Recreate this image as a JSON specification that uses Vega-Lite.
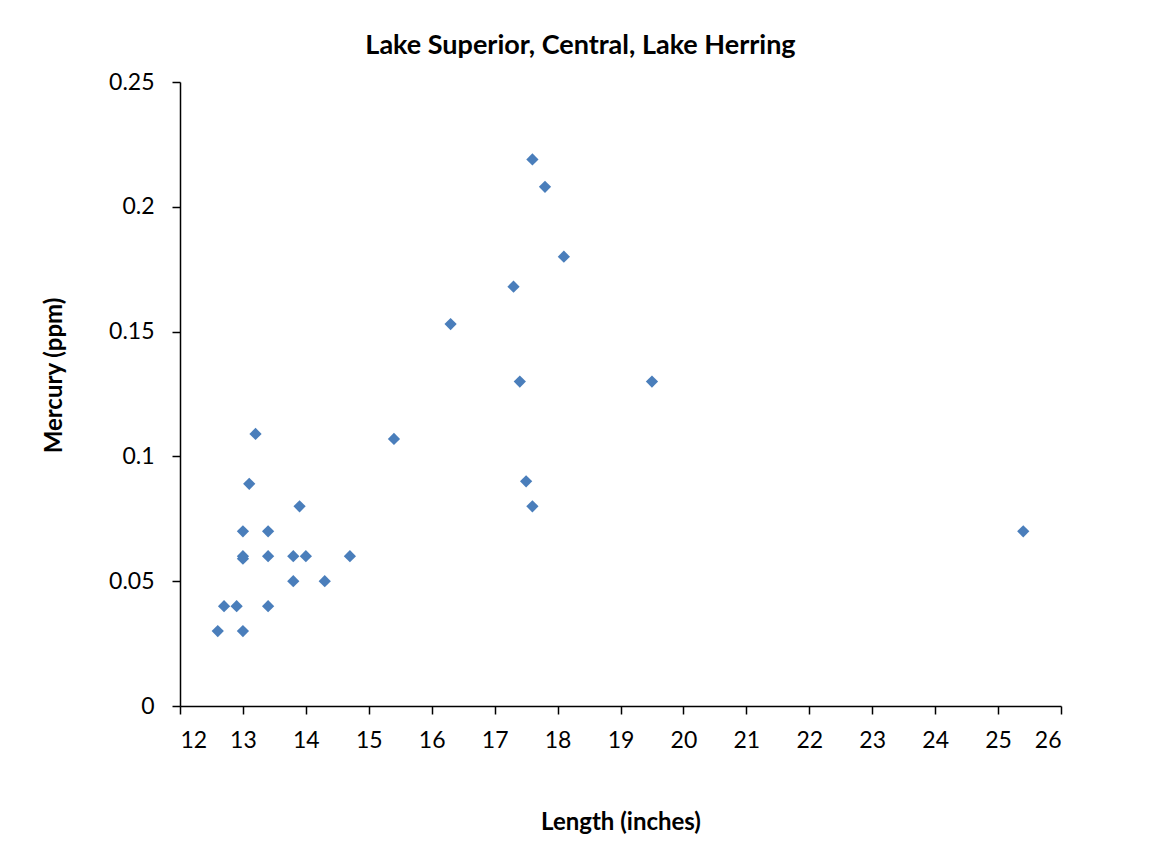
{
  "$schema": "https://vega.github.io/schema/vega-lite/v6.json",
  "width": 881,
  "height": 624,
  "autosize": {"type": "none"},
  "padding": {"left": 180, "top": 82, "right": 95, "bottom": 136},
  "background": "white",
  "title": {
    "text": "Lake Superior, Central, Lake Herring",
    "font": "Lato",
    "fontSize": 27,
    "fontWeight": "bold",
    "color": "black",
    "anchor": "middle",
    "dx": -40,
    "offset": 11
  },
  "config": {
    "view": {"stroke": null},
    "axis": {
      "labelFont": "Lato",
      "labelFontSize": 23,
      "labelColor": "black",
      "titleFont": "Lato",
      "titleFontSize": 24,
      "titleFontWeight": "bold",
      "titleColor": "black",
      "domainColor": "black",
      "domainWidth": 1.5,
      "tickColor": "black",
      "tickWidth": 1.5,
      "grid": false
    }
  },
  "data": {
    "values": [
      {"length": 13.2, "mercury": 0.109},
      {"length": 13.1, "mercury": 0.089},
      {"length": 13.9, "mercury": 0.08},
      {"length": 13.0, "mercury": 0.07},
      {"length": 13.4, "mercury": 0.07},
      {"length": 13.0, "mercury": 0.06},
      {"length": 13.0, "mercury": 0.059},
      {"length": 13.4, "mercury": 0.06},
      {"length": 13.8, "mercury": 0.06},
      {"length": 14.0, "mercury": 0.06},
      {"length": 14.7, "mercury": 0.06},
      {"length": 13.8, "mercury": 0.05},
      {"length": 14.3, "mercury": 0.05},
      {"length": 12.7, "mercury": 0.04},
      {"length": 12.9, "mercury": 0.04},
      {"length": 13.4, "mercury": 0.04},
      {"length": 12.6, "mercury": 0.03},
      {"length": 13.0, "mercury": 0.03},
      {"length": 15.4, "mercury": 0.107},
      {"length": 16.3, "mercury": 0.153},
      {"length": 17.3, "mercury": 0.168},
      {"length": 17.6, "mercury": 0.219},
      {"length": 17.8, "mercury": 0.208},
      {"length": 18.1, "mercury": 0.18},
      {"length": 17.4, "mercury": 0.13},
      {"length": 19.5, "mercury": 0.13},
      {"length": 17.5, "mercury": 0.09},
      {"length": 17.6, "mercury": 0.08},
      {"length": 25.4, "mercury": 0.07}
    ]
  },
  "mark": {"type": "point", "shape": "diamond", "filled": true, "color": "#4a7ebb", "opacity": 1, "size": 150},
  "encoding": {
    "x": {
      "field": "length",
      "type": "quantitative",
      "scale": {"domain": [12, 26], "nice": false, "zero": false},
      "axis": {
        "title": "Length (inches)",
        "values": [12,13,14,15,16,17,18,19,20,21,22,23,24,25,26],
        "tickSize": 8,
        "labelPadding": 15,
        "titlePadding": 58
      }
    },
    "y": {
      "field": "mercury",
      "type": "quantitative",
      "scale": {"domain": [0, 0.25], "nice": false},
      "axis": {
        "title": "Mercury (ppm)",
        "values": [0, 0.05, 0.1, 0.15, 0.2, 0.25],
        "format": "~g",
        "tickSize": 8,
        "labelPadding": 18,
        "titlePadding": 42,
        "titleY": 293
      }
    }
  }
}
